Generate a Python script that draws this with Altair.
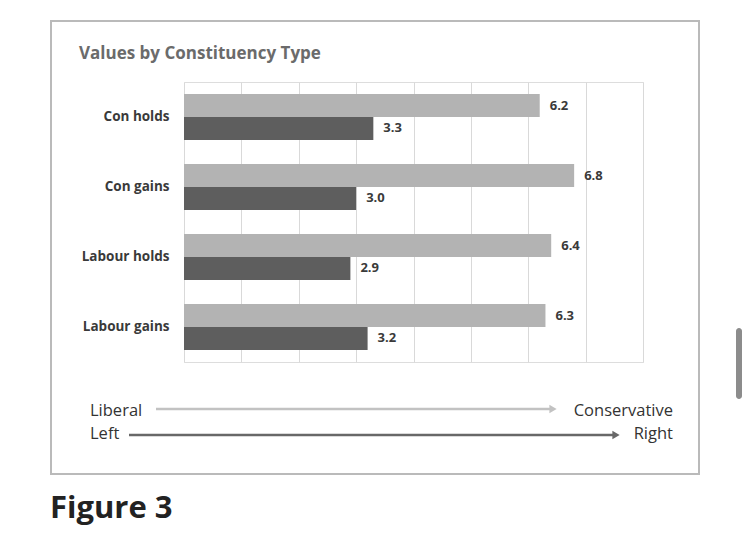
import altair as alt
import pandas as pd

# ---- data ----
categories = ["Con holds", "Con gains", "Labour holds", "Labour gains"]
series = ["Liberal–Conservative", "Left–Right"]
lib_con = [6.2, 6.8, 6.4, 6.3]
left_right = [3.3, 3.0, 2.9, 3.2]
x_ticks = [0, 1, 2, 3, 4, 5, 6, 7, 8]
arrow_start_labels = ["Liberal", "Left"]
arrow_end_labels = ["Conservative", "Right"]
chart_title = "Values by Constituency Type"
figure_caption = "Figure 3"

rows = []
for c, a, b in zip(categories, lib_con, left_right):
    rows.append({"category": c, "series": series[0], "value": a})
    rows.append({"category": c, "series": series[1], "value": b})
df = pd.DataFrame(rows)

FONT = "Open Sans"
W, H = 459, 280

y_enc = alt.Y("category:N", sort=categories, title=None,
              scale=alt.Scale(paddingInner=0.343, paddingOuter=0.1715),
              axis=alt.Axis(ticks=False, domain=False, labelPadding=15,
                            labelFont=FONT, labelFontSize=13.5, labelFontWeight="bold",
                            labelColor="#3a3a3a", grid=False))
yoff = alt.YOffset("series:N", sort=series, scale=alt.Scale(domain=series, paddingInner=0, paddingOuter=0))
x_enc = alt.X("value:Q", title=None,
              scale=alt.Scale(domain=[0, 8], nice=False),
              axis=alt.Axis(values=x_ticks, labels=False, ticks=False, domain=False,
                            grid=True, gridColor="#d9d9d9", gridWidth=1))

base = alt.Chart(df)
bars = base.mark_bar(size=23).encode(
    x=x_enc, y=y_enc, yOffset=yoff,
    color=alt.Color("series:N", sort=series,
                    scale=alt.Scale(domain=series, range=["#b3b3b3", "#5e5e5e"]),
                    legend=None),
)
labels = base.mark_text(align="left", baseline="middle", dx=10, font=FONT,
                        fontSize=13, fontWeight="bold", color="#3a3a3a").encode(
    x="value:Q", y=alt.Y("category:N", sort=categories), yOffset=yoff,
    text=alt.Text("value:Q", format=".1f"),
)

# ---- decorations (pixel positions relative to plot origin) ----
border = alt.Chart(pd.DataFrame({"k": [0]})).mark_rect(
    fillOpacity=0, stroke="#bababa", strokeWidth=2).encode(
    x=alt.value(-133), x2=alt.value(515), y=alt.value(-61), y2=alt.value(392))

scroll = alt.Chart(pd.DataFrame({"k": [0]})).mark_rect(
    color="#8c8c8c", cornerRadius=3).encode(
    x=alt.value(552), x2=alt.value(558), y=alt.value(246), y2=alt.value(317))

arrow_lib = alt.Chart(pd.DataFrame({"k": [0]})).mark_rule(
    color="#c2c2c2", strokeWidth=2.5).encode(
    x=alt.value(-28), x2=alt.value(368), y=alt.value(327))
head_lib = alt.Chart(pd.DataFrame({"k": [0]})).mark_point(
    shape="triangle-right", filled=True, opacity=1, color="#c2c2c2", size=70).encode(
    x=alt.value(369), y=alt.value(327))

arrow_lr = alt.Chart(pd.DataFrame({"k": [0]})).mark_rule(
    color="#686868", strokeWidth=2.5).encode(
    x=alt.value(-55), x2=alt.value(431), y=alt.value(353))
head_lr = alt.Chart(pd.DataFrame({"k": [0]})).mark_point(
    shape="triangle-right", filled=True, opacity=1, color="#686868", size=70).encode(
    x=alt.value(432), y=alt.value(353))

start_txt = alt.Chart(pd.DataFrame({"t": arrow_start_labels, "yy": [328.5, 351.5]})).mark_text(
    align="left", baseline="middle", font=FONT, fontSize=16.5, color="#333333").encode(
    x=alt.value(-94), y=alt.Y("yy:Q", scale=None), text="t:N")
end_txt = alt.Chart(pd.DataFrame({"t": arrow_end_labels, "yy": [328.5, 351.5]})).mark_text(
    align="right", baseline="middle", font=FONT, fontSize=16.5, color="#333333").encode(
    x=alt.value(489), y=alt.Y("yy:Q", scale=None), text="t:N")

caption = alt.Chart(pd.DataFrame({"t": [figure_caption]})).mark_text(
    align="left", baseline="alphabetic", font=FONT, fontSize=31, fontWeight="bold",
    color="#222222").encode(
    x=alt.value(-134), y=alt.value(436), text="t:N")

chart = alt.layer(
    border, bars, labels, arrow_lib, head_lib, arrow_lr, head_lr,
    start_txt, end_txt, caption, scroll,
).properties(
    width=W, height=H,
    title=alt.TitleParams(chart_title, anchor="start", frame="group", dx=-105, dy=56, offset=0,
                          baseline="alphabetic", font=FONT, fontSize=17,
                          fontWeight="bold", color="#6b6b6b"),
    autosize=alt.AutoSizeParams(type="none"),
    padding={"left": 176, "top": 74, "right": 99, "bottom": 164},
).configure_view(stroke=None).configure(background="white")

chart.save("out.html", embed_options={"renderer": "svg", "actions": False})
